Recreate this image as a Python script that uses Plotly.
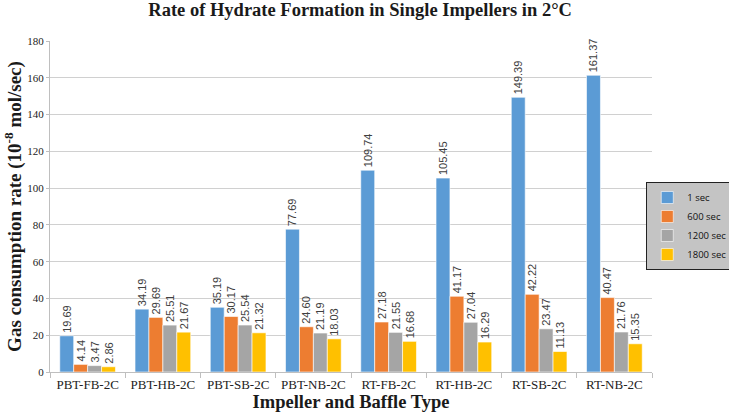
import plotly.graph_objects as go

categories = ["PBT-FB-2C", "PBT-HB-2C", "PBT-SB-2C", "PBT-NB-2C",
              "RT-FB-2C", "RT-HB-2C", "RT-SB-2C", "RT-NB-2C"]
s1 = [19.69, 34.19, 35.19, 77.69, 109.74, 105.45, 149.39, 161.37]
s600 = [4.14, 29.69, 30.17, 24.60, 27.18, 41.17, 42.22, 40.47]
s1200 = [3.47, 25.51, 25.54, 21.19, 21.55, 27.04, 23.47, 21.76]
s1800 = [2.86, 21.67, 21.32, 18.03, 16.68, 16.29, 11.13, 15.35]
series_names = ["1 sec", "600 sec", "1200 sec", "1800 sec"]
colors = ["#5B9BD5", "#ED7D31", "#A5A5A5", "#FFC000"]
y_ticks = [0, 20, 40, 60, 80, 100, 120, 140, 160, 180]

fig = go.Figure()
for name, vals, c in zip(series_names, [s1, s600, s1200, s1800], colors):
    fig.add_trace(go.Bar(
        x=categories, y=vals, name=name,
        marker=dict(color=c, line=dict(color="white", width=0.6)),
        text=[f"{v:.2f}" for v in vals],
        textposition="outside", textangle=-90,
        textfont=dict(family="Liberation Sans", size=11, color="#404040"),
        constraintext="none", cliponaxis=False,
    ))

serif = "Liberation Serif"
fig.update_layout(
    width=729, height=417,
    margin=dict(l=50, r=77, t=41, b=45, autoexpand=False),
    paper_bgcolor="white", plot_bgcolor="white",
    barmode="group", bargap=0.26, bargroupgap=0,
    title=dict(text="<b>Rate of Hydrate Formation in Single Impellers in 2°C</b>",
               x=0.494, xanchor="center", y=0.978, yanchor="middle",
               font=dict(family=serif, size=18.5, color="#1a1a1a")),
    legend=dict(x=1.135, xanchor="right", y=0.574, yanchor="top",
                bgcolor="#C4C4C4", bordercolor="#222222", borderwidth=1,
                font=dict(family="Open Sans", size=9.5, color="#111111"),
                itemwidth=30, tracegroupgap=0),
    xaxis=dict(
        automargin=False,
        title=dict(text="<b>Impeller and Baffle Type</b>", standoff=4,
                   font=dict(family=serif, size=18.5, color="#1a1a1a")),
        tickfont=dict(family=serif, size=13, color="#222222"),
        tickangle=0,
        showline=True, linecolor="#BFBFBF", linewidth=1,
        ticks="outside", tickson="boundaries", ticklen=5, tickcolor="#BFBFBF",
        showgrid=False,
    ),
    yaxis=dict(
        automargin=False,
        title=dict(text="<b>Gas consumption rate (10<sup>-8</sup> mol/sec)</b>", standoff=0,
                   font=dict(family=serif, size=19, color="#1a1a1a")),
        range=[0, 180], tickvals=y_ticks,
        tickfont=dict(family=serif, size=11, color="#222222"),
        showline=True, linecolor="#BFBFBF", linewidth=1,
        ticks="outside", ticklen=3, tickcolor="#BFBFBF",
        showgrid=True, gridcolor="#D0D0D0", gridwidth=1,
        zeroline=False,
    ),
)
fig.write_html("out.html", config={"displayModeBar": False},
               post_script="document.body.style.margin='0';document.body.style.padding='0';")
